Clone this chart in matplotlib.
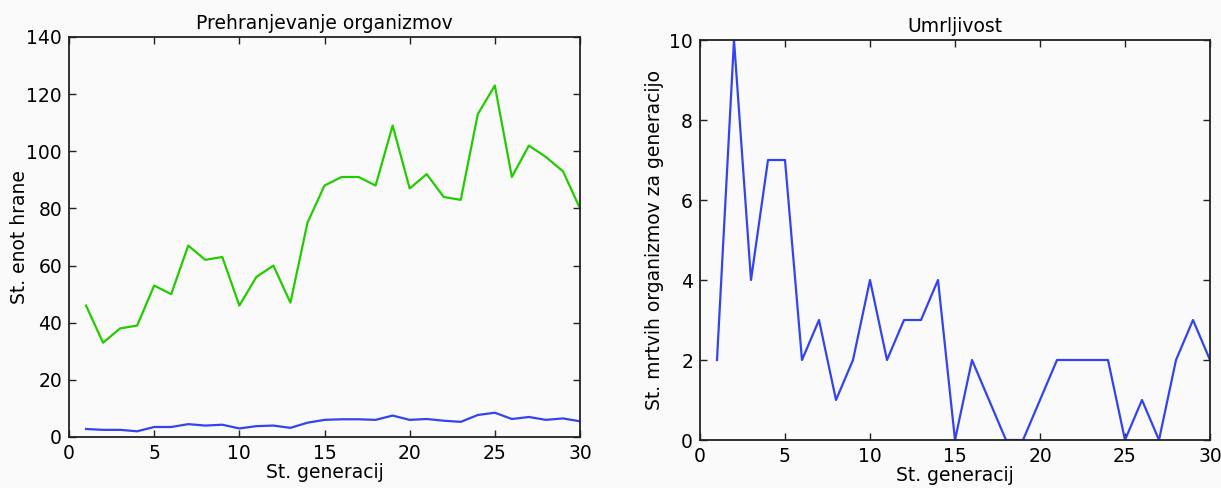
import matplotlib
matplotlib.use("Agg")
import matplotlib.pyplot as plt

# generacije 1..30
generacije = list(range(1, 31))

# enote hrane po generacijah
hrana_zelena = [46, 33, 38, 39, 53, 50, 67, 62, 63, 46,
                56, 60, 47, 75, 88, 91, 91, 88, 109, 87,
                92, 84, 83, 113, 123, 91, 102, 98, 93, 80]
hrana_modra = [2.8, 2.5, 2.5, 2.0, 3.5, 3.5, 4.5, 4.0, 4.3, 3.0,
               3.8, 4.0, 3.2, 5.0, 6.0, 6.2, 6.2, 6.0, 7.5, 6.0,
               6.3, 5.7, 5.3, 7.7, 8.5, 6.3, 7.0, 6.0, 6.5, 5.5]

# mrtvi organizmi po generacijah
mrtvi = [2, 10, 4, 7, 7, 2, 3, 1, 2, 4,
         2, 3, 3, 4, 0, 2, 1, 0, 0, 1,
         2, 2, 2, 2, 0, 1, 0, 2, 3, 2]

plt.rcParams['font.family'] = ['DejaVu Sans']
plt.rcParams['font.size'] = 13.5

fig = plt.figure(figsize=(12.21, 4.88), dpi=100, facecolor='#fafafa')

ax1 = fig.add_axes([69 / 1221, 1 - 437 / 488, 511 / 1221, 400 / 488])
ax1.set_facecolor('#fafafa')
ax1.plot(generacije, hrana_zelena, color='#22cc00', lw=1.6)
ax1.plot(generacije, hrana_modra, color='#3344ee', lw=1.6)
ax1.set_xlim(0, 30)
ax1.set_ylim(0, 140)
ax1.set_title("Prehranjevanje organizmov", fontsize=13.5, pad=6)
ax1.set_xlabel("St. generacij", labelpad=0)
ax1.set_ylabel("St. enot hrane", labelpad=-2)

ax2 = fig.add_axes([700 / 1221, 1 - 440 / 488, 510 / 1221, 400 / 488])
ax2.set_facecolor('#fafafa')
ax2.plot(generacije, mrtvi, color='#3344ee', lw=1.6)
ax2.set_xlim(0, 30)
ax2.set_ylim(0, 10)
ax2.set_title("Umrljivost", fontsize=13.5, pad=6)
ax2.set_xlabel("St. generacij", labelpad=0)
ax2.set_ylabel("St. mrtvih organizmov za generacijo", labelpad=4)

for ax in (ax1, ax2):
    ax.tick_params(direction='in', top=True, right=True, length=5,
                   width=1, pad=5, color='#222222')
    for s in ax.spines.values():
        s.set_color('#222222')
        s.set_linewidth(1.3)

fig.savefig("out.png", dpi=100, facecolor=fig.get_facecolor())
